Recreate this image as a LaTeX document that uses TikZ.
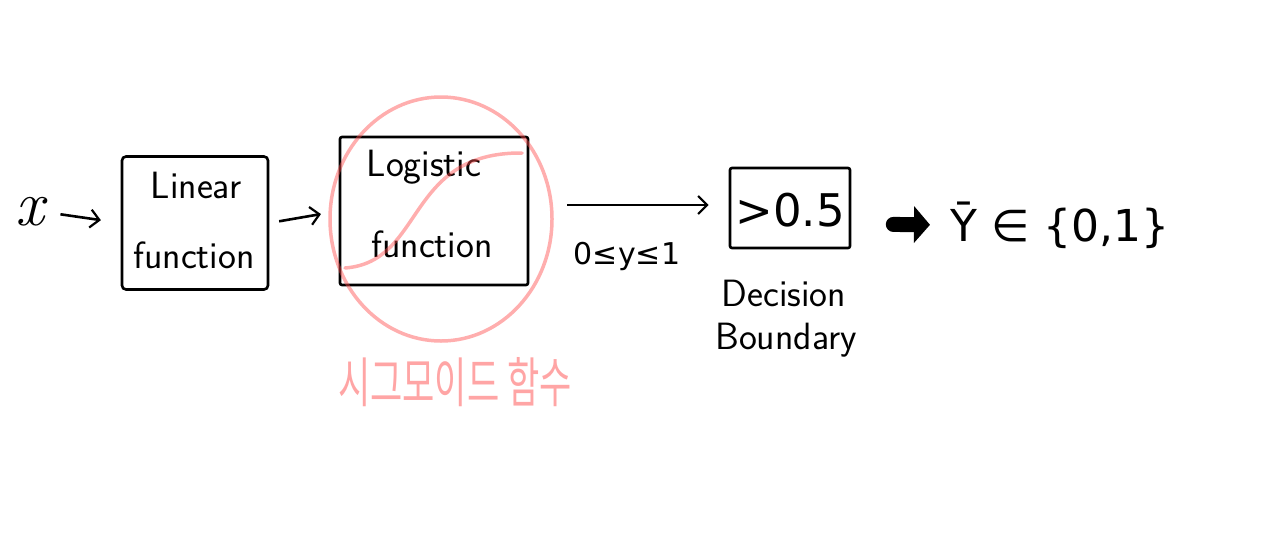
\documentclass[tikz,border=0pt]{standalone}
\usepackage{fontspec}
\newfontfamily\kr{Noto Sans CJK KR}
\newfontfamily\dv{DejaVu Sans}
\usetikzlibrary{arrows.meta,shapes.geometric}
\tikzset{
  ink/.style={line width=2.6pt, black},
  boxstyle/.style={draw, ink, rounded corners=4pt, inner sep=0pt},
  hand/.style={font=\sffamily\fontsize{38}{38}\selectfont, inner sep=0pt},
  conn/.style={ink, -{Straight Barb[length=9pt,width=18pt,line width=2.2pt]}},
  pinkink/.style={draw=red!70!white, opacity=0.45, line width=3.5pt}
}
\begin{document}
\begin{tikzpicture}[x=1pt,y=-1pt]
\useasboundingbox (0,0) rectangle (1288,539);
% x input
\node[inner sep=0pt, font=\itshape\fontsize{64}{64}\selectfont] (xn) at (30,212) {x};
% Linear box
\node[boxstyle, minimum width=146pt, minimum height=133pt] (lin) at (195,223) {};
\node[hand] (lin1) at (196,185) {Linear};
\node[hand] (lin2) at (194,255) {function};
% Logistic box
\node[boxstyle, rounded corners=2pt, minimum width=188pt, minimum height=148pt] (log) at (434,211) {};
\node[hand] (log1) at (424,167) {Logistic};
\node[hand] (log2) at (432,244) {function};
% sigmoid circle and curve
\node[pinkink, ellipse, minimum width=222pt, minimum height=244pt] (circ) at (441,219) {};
\coordinate (sA) at (345,268);
\coordinate (sB) at (522,153);
\draw[pinkink, line cap=round] (sA) .. controls (425,262) and (405,152) .. (sB);
\node[inner sep=0pt, text=red!70!white, opacity=0.5, xscale=0.65, font=\kr\fontsize{54}{54}\selectfont] (kr) at (455,382) {시그모이드 함수};
% threshold box
\node[boxstyle, rounded corners=2pt, minimum width=120pt, minimum height=80pt] (thr) at (790,208) {};
\node[inner sep=0pt, font=\dv\fontsize{45}{45}\selectfont] (thrt) at (790,210) {>0.5};
\node[hand] (dec1) at (784,293) {Decision};
\node[hand] (dec2) at (786,340) {Boundary};
% range label
\node[inner sep=0pt, font=\dv\fontsize{30}{30}\selectfont] (rng) at (627,256) {0≤y≤1};
% output
\node[inner sep=0pt, font=\dv\fontsize{44}{44}\selectfont, anchor=west] (out) at (950,225) {Ȳ ∈ \{0,1\}};
% connectors
\draw[conn, shorten <=16pt, shorten >=20pt] (xn.east) -- (lin.west);
\draw[conn, shorten <=10pt, shorten >=18pt] (lin.east) -- (log.west);
\draw[conn, shorten <=38pt, shorten >=20pt] ([yshift=6pt]log.east) -- ([yshift=3pt]thr.west);
\draw[line width=15pt, line cap=round, -{Triangle[length=16pt,width=36pt]}, shorten <=42pt, shorten >=20pt] ([yshift=-16pt]thr.east) -- (out.west);
\end{tikzpicture}
\end{document}
